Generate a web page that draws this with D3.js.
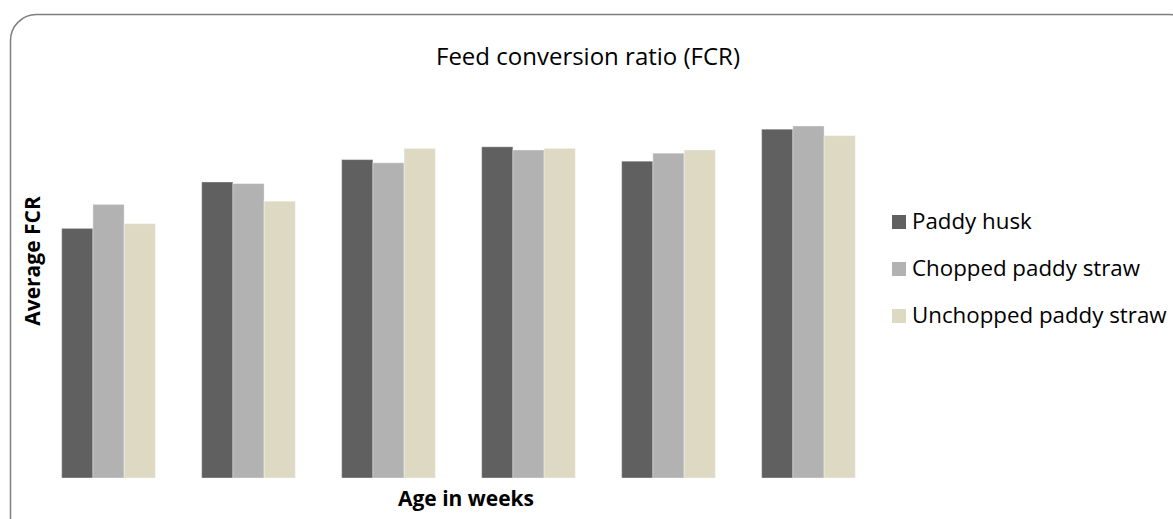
<!DOCTYPE html>
<html>
<head>
<meta charset="utf-8">
<script src="https://cdn.jsdelivr.net/npm/d3@7/dist/d3.min.js"></script>
<style>
  html, body { margin: 0; padding: 0; background: #fff; overflow: hidden; }
  svg { display: block; }
</style>
</head>
<body>
<svg id="chart" width="1173" height="519"></svg>
<script>
// ---- data ----
const weeks = ["1", "2", "3", "4", "5", "6"];
const seriesNames = ["Paddy husk", "Chopped paddy straw", "Unchopped paddy straw"];
const paddyHusk = [1.56, 1.85, 1.99, 2.07, 1.98, 2.18];
const choppedStraw = [1.71, 1.84, 1.97, 2.05, 2.03, 2.20];
const unchoppedStraw = [1.59, 1.73, 2.06, 2.06, 2.05, 2.14];
const colors = ["#606060", "#b2b2b2", "#ddd9c3"];

const seriesValues = [paddyHusk, choppedStraw, unchoppedStraw];
const table = weeks.map((w, i) => ({
  week: w,
  values: seriesNames.map((s, j) => ({ series: s, value: seriesValues[j][i] }))
}));

const svg = d3.select("#chart");
const font = "'Open Sans', 'Liberation Sans', sans-serif";

// outer rounded border
svg.append("rect")
  .attr("x", 10.5).attr("y", 14.5)
  .attr("width", 1185).attr("height", 530)
  .attr("rx", 26).attr("ry", 26)
  .attr("fill", "#fff")
  .attr("stroke", "#7f7f7f")
  .attr("stroke-width", 1.5);

// scales
const x0 = d3.scaleBand()
  .domain(weeks)
  .range([38.5, 878.5])
  .paddingInner(0.331)
  .paddingOuter(0.1657);

const x1 = d3.scaleBand()
  .domain(seriesNames)
  .range([0, x0.bandwidth()])
  .padding(0);

const y = d3.scaleLinear()
  .domain([0, 2.5])
  .range([478, 78]);

const color = d3.scaleOrdinal().domain(seriesNames).range(colors);

// bars
const groups = svg.append("g").selectAll("g")
  .data(table)
  .join("g")
  .attr("transform", d => `translate(${x0(d.week)},0)`);

groups.selectAll("rect")
  .data(d => d.values)
  .join("rect")
  .attr("x", d => x1(d.series))
  .attr("y", d => y(d.value))
  .attr("width", x1.bandwidth())
  .attr("height", d => y(0) - y(d.value))
  .attr("fill", d => color(d.series))
  .attr("stroke", "rgba(255,255,255,0.35)")
  .attr("stroke-width", 1);

// title
svg.append("text")
  .attr("x", 588).attr("y", 65)
  .attr("text-anchor", "middle")
  .attr("font-family", font)
  .attr("font-size", 24)
  .attr("fill", "#000")
  .text("Feed conversion ratio (FCR)");

// axis titles
svg.append("text")
  .attr("x", 466).attr("y", 506)
  .attr("text-anchor", "middle")
  .attr("font-family", font)
  .attr("font-weight", "bold")
  .attr("font-size", 21)
  .attr("fill", "#000")
  .text("Age in weeks");

svg.append("text")
  .attr("transform", "translate(40,261) rotate(-90)")
  .attr("text-anchor", "middle")
  .attr("font-family", font)
  .attr("font-weight", "bold")
  .attr("font-size", 21)
  .attr("fill", "#000")
  .text("Average FCR");

// legend
const legend = svg.append("g").selectAll("g")
  .data(seriesNames)
  .join("g")
  .attr("transform", (d, i) => `translate(892,${229 + i * 47})`);

legend.append("rect")
  .attr("x", 0).attr("y", -14)
  .attr("width", 14).attr("height", 14)
  .attr("fill", d => color(d));

legend.append("text")
  .attr("x", 20).attr("y", 0)
  .attr("font-family", font)
  .attr("font-size", 22.3)
  .attr("fill", "#000")
  .text(d => d);
</script>
</body>
</html>
